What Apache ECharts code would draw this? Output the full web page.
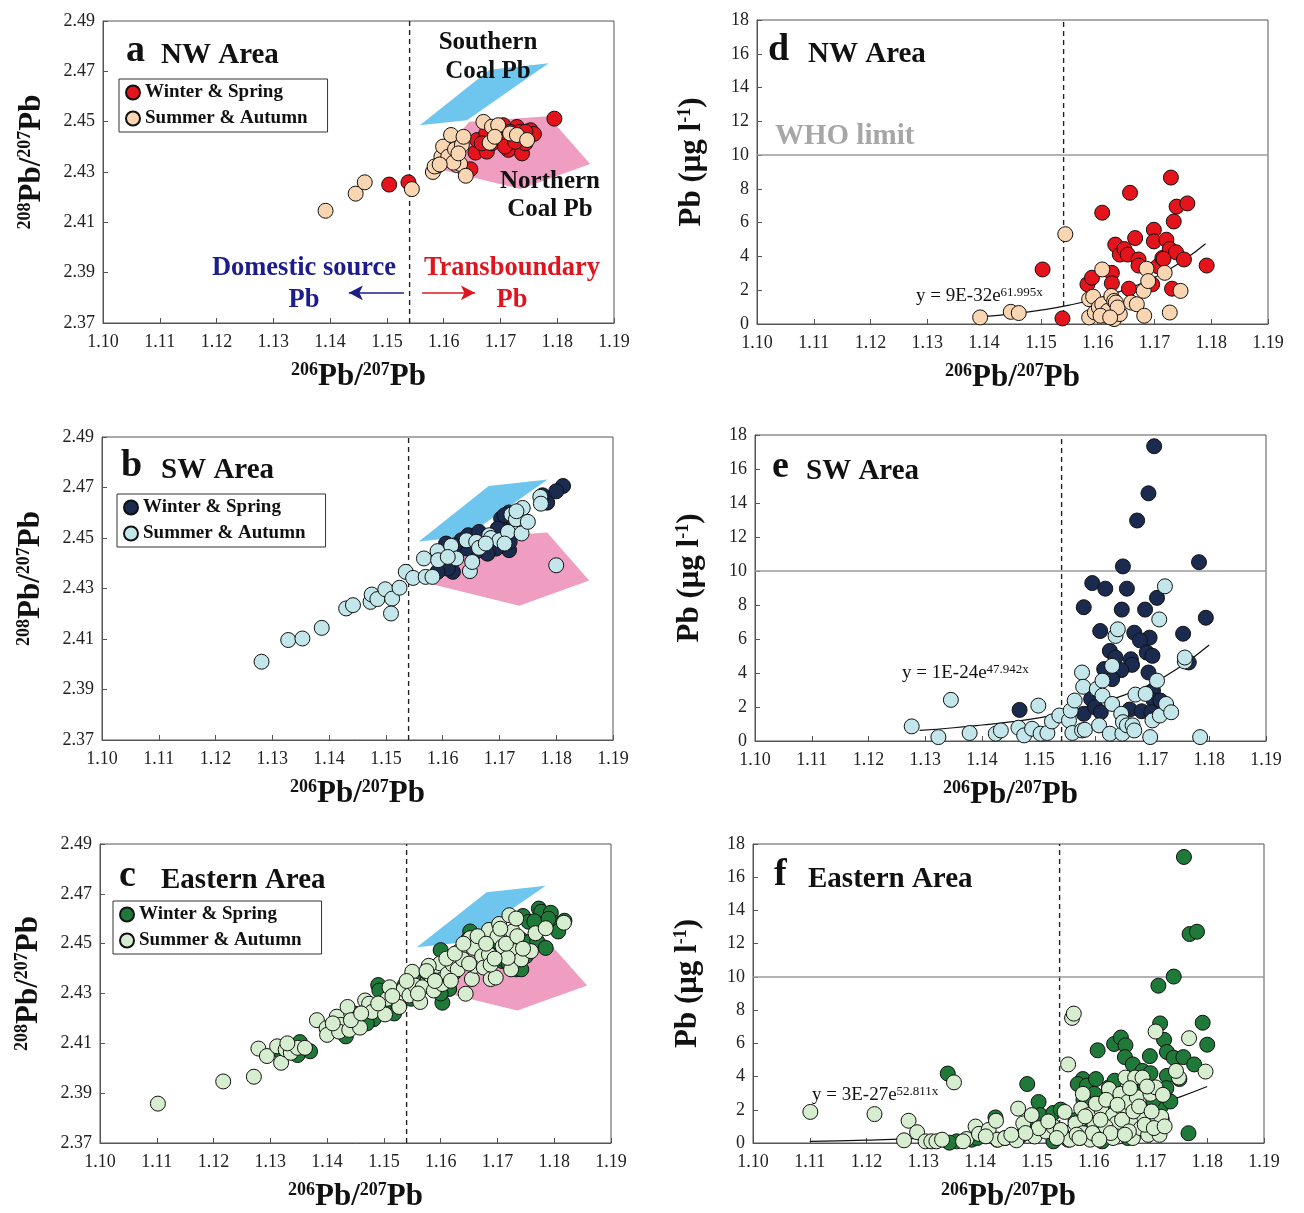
<!DOCTYPE html>
<html>
<head>
<meta charset="utf-8">
<script src="https://cdn.jsdelivr.net/npm/echarts@6/dist/echarts.min.js"></script>
<style>
  html, body { margin: 0; padding: 0; background: #fff; }
  #chart { width: 1304px; height: 1213px; }
</style>
</head>
<body>
<div id="chart"></div>
<script>
// ---- data ----
const aWinter = [[1.1504,2.4250],[1.1538,2.4259],[1.1795,2.4512],[1.1647,2.4311],[1.1656,2.4377],[1.1676,2.4381],[1.1659,2.4427],[1.1675,2.4453],[1.1693,2.4466],[1.1699,2.4427],[1.1714,2.4388],[1.1723,2.4440],[1.1729,2.4479],[1.1738,2.4374],[1.1744,2.4414],[1.1753,2.4466],[1.1759,2.4451],[1.1705,2.4486],[1.1717,2.4460],[1.1735,2.4460],[1.1685,2.4414],[1.1708,2.4401],[1.1744,2.4460],[1.1726,2.4420],[1.1667,2.4414]];
const aSummer = [[1.1392,2.4146],[1.1445,2.4214],[1.1461,2.4259],[1.1544,2.4232],[1.1581,2.4300],[1.1590,2.4326],[1.1596,2.4361],[1.1599,2.4401],[1.1613,2.4447],[1.1608,2.4361],[1.1620,2.4390],[1.1623,2.4328],[1.1629,2.4332],[1.1632,2.4407],[1.1635,2.4440],[1.1639,2.4285],[1.1584,2.4322],[1.1670,2.4499],[1.1685,2.4480],[1.1681,2.4416],[1.1696,2.4486],[1.1690,2.4440],[1.1717,2.4453],[1.1729,2.4447],[1.1747,2.4427],[1.1617,2.4337],[1.1593,2.4330],[1.1626,2.4374]];

const bWinter = [[1.1812,2.4706],[1.1800,2.4685],[1.1784,2.4640],[1.1776,2.4669],[1.1717,2.4452],[1.1718,2.4485],[1.1706,2.4551],[1.1703,2.4577],[1.1717,2.4601],[1.1709,2.4590],[1.1694,2.4458],[1.1679,2.4438],[1.1670,2.4491],[1.1658,2.4445],[1.1642,2.4458],[1.1633,2.4491],[1.1621,2.4471],[1.1618,2.4366],[1.1609,2.4379],[1.1606,2.4478],[1.1597,2.4419],[1.1591,2.4366],[1.1645,2.4511],[1.1664,2.4524],[1.1688,2.4511],[1.1697,2.4537]];
const bSummer = [[1.1281,2.4010],[1.1328,2.4096],[1.1353,2.4102],[1.1387,2.4144],[1.1430,2.4221],[1.1442,2.4234],[1.1473,2.4247],[1.1475,2.4276],[1.1485,2.4258],[1.1499,2.4297],[1.1511,2.4260],[1.1509,2.4201],[1.1524,2.4303],[1.1535,2.4366],[1.1548,2.4342],[1.1567,2.4419],[1.1570,2.4346],[1.1582,2.4346],[1.1591,2.4448],[1.1592,2.4412],[1.1615,2.4469],[1.1624,2.4419],[1.1642,2.4491],[1.1648,2.4369],[1.1652,2.4405],[1.1659,2.4485],[1.1664,2.4461],[1.1682,2.4511],[1.1685,2.4500],[1.1700,2.4491],[1.1715,2.4524],[1.1721,2.4593],[1.1729,2.4574],[1.1739,2.4518],[1.1741,2.4619],[1.1750,2.4564],[1.1772,2.4663],[1.1773,2.4636],[1.1800,2.4392],[1.1730,2.4606],[1.1609,2.4425],[1.1676,2.4478],[1.1709,2.4478]];

const cWinter = [[1.1370,2.4068],[1.1352,2.4105],[1.1348,2.4053],[1.1321,2.4058],[1.1433,2.4128],[1.1448,2.4220],[1.1482,2.4197],[1.1490,2.4334],[1.1492,2.4312],[1.1518,2.4220],[1.1536,2.4332],[1.1600,2.4474],[1.1603,2.4263],[1.1615,2.4318],[1.1652,2.4549],[1.1709,2.4430],[1.1733,2.4397],[1.1742,2.4397],[1.1745,2.4611],[1.1742,2.4516],[1.1755,2.4588],[1.1758,2.4509],[1.1770,2.4509],[1.1773,2.4641],[1.1777,2.4628],[1.1794,2.4624],[1.1800,2.4584],[1.1807,2.4549],[1.1818,2.4592],[1.1785,2.4483],[1.1715,2.4430],[1.1727,2.4503],[1.1703,2.4503],[1.1648,2.4516],[1.1624,2.4384],[1.1548,2.4279],[1.1576,2.4384],[1.1552,2.4358],[1.1730,2.4480],[1.1750,2.4450],[1.1765,2.4590],[1.1790,2.4600],[1.1470,2.4180],[1.1500,2.4250],[1.1600,2.4300],[1.1720,2.4420]];
const cSummer = [[1.1102,2.3858],[1.1217,2.3947],[1.1271,2.3966],[1.1279,2.4079],[1.1294,2.4049],[1.1312,2.4088],[1.1319,2.4022],[1.1327,2.4075],[1.1336,2.4062],[1.1348,2.4082],[1.1361,2.4082],[1.1382,2.4193],[1.1399,2.4161],[1.1400,2.4134],[1.1417,2.4207],[1.1424,2.4174],[1.1421,2.4147],[1.1439,2.4154],[1.1436,2.4246],[1.1458,2.4163],[1.1442,2.4193],[1.1467,2.4272],[1.1474,2.4259],[1.1479,2.4226],[1.1502,2.4216],[1.1506,2.4279],[1.1510,2.4325],[1.1527,2.4246],[1.1535,2.4318],[1.1545,2.4292],[1.1550,2.4387],[1.1555,2.4332],[1.1564,2.4266],[1.1568,2.4325],[1.1583,2.4371],[1.1588,2.4312],[1.1594,2.4411],[1.1599,2.4421],[1.1603,2.4338],[1.1612,2.4378],[1.1621,2.4417],[1.1630,2.4397],[1.1633,2.4470],[1.1639,2.4437],[1.1644,2.4299],[1.1652,2.4522],[1.1655,2.4358],[1.1658,2.4483],[1.1661,2.4411],[1.1673,2.4450],[1.1676,2.4404],[1.1685,2.4555],[1.1685,2.4457],[1.1688,2.4358],[1.1697,2.4364],[1.1700,2.4529],[1.1703,2.4579],[1.1709,2.4489],[1.1721,2.4614],[1.1724,2.4397],[1.1727,2.4549],[1.1730,2.4470],[1.1733,2.4601],[1.1742,2.4437],[1.1759,2.4470],[1.1767,2.4542],[1.1785,2.4562],[1.1817,2.4584],[1.1718,2.4443],[1.1618,2.4351],[1.1688,2.4416],[1.1579,2.4411],[1.1575,2.4390],[1.1590,2.4350],[1.1610,2.4440],[1.1625,2.4460],[1.1640,2.4500],[1.1650,2.4420],[1.1665,2.4530],[1.1680,2.4500],[1.1695,2.4440],[1.1705,2.4560],[1.1715,2.4500],[1.1735,2.4530],[1.1745,2.4480],[1.1560,2.4300],[1.1540,2.4350],[1.1515,2.4290],[1.1490,2.4260],[1.1460,2.4220],[1.1410,2.4180],[1.1330,2.4100]];

const dWinter = [[1.1503,3.23],[1.1538,0.33],[1.1582,2.35],[1.1590,2.74],[1.1608,6.59],[1.1625,3.03],[1.1625,2.41],[1.1631,4.70],[1.1639,4.11],[1.1647,4.44],[1.1653,4.11],[1.1657,7.77],[1.1655,2.09],[1.1666,5.09],[1.1672,3.82],[1.1672,3.46],[1.1699,5.58],[1.1699,4.89],[1.1696,2.35],[1.1706,3.42],[1.1714,3.91],[1.1721,4.99],[1.1729,8.67],[1.1727,4.44],[1.1734,6.07],[1.1738,4.25],[1.1739,6.95],[1.1731,2.09],[1.1752,3.82],[1.1758,7.14],[1.1792,3.46],[1.1716,3.86]];
const dSummer = [[1.1393,0.39],[1.1447,0.72],[1.1461,0.65],[1.1543,5.32],[1.1585,1.47],[1.1585,0.39],[1.1592,1.62],[1.1595,0.68],[1.1602,0.98],[1.1608,3.23],[1.1608,1.17],[1.1615,0.49],[1.1618,0.78],[1.1624,1.66],[1.1629,1.37],[1.1629,0.29],[1.1632,1.27],[1.1639,0.59],[1.1635,0.98],[1.1659,1.27],[1.1669,1.17],[1.1682,0.49],[1.1681,1.96],[1.1686,3.27],[1.1689,2.54],[1.1718,3.03],[1.1727,0.68],[1.1746,1.96],[1.1605,0.49],[1.1622,0.39]];

const eWinter = [[1.1703,17.34],[1.1693,14.57],[1.1673,12.97],[1.1648,10.27],[1.1782,10.52],[1.1594,9.29],[1.1617,8.96],[1.1655,8.96],[1.1579,7.87],[1.1646,7.73],[1.1687,7.73],[1.1708,8.42],[1.1794,7.25],[1.1608,6.47],[1.1668,6.37],[1.1695,6.08],[1.1754,6.31],[1.1678,5.92],[1.1625,5.30],[1.1635,4.91],[1.1690,5.20],[1.1700,5.01],[1.1662,4.81],[1.1664,4.48],[1.1645,4.17],[1.1615,4.23],[1.1629,3.64],[1.1693,4.03],[1.1764,4.62],[1.1466,1.83],[1.1579,1.60],[1.1592,2.47],[1.1599,1.99],[1.1609,1.69],[1.1660,1.85],[1.1681,1.75],[1.1701,2.96],[1.1702,2.38],[1.1714,2.38],[1.1698,1.69]];
const eSummer = [[1.1276,0.86],[1.1323,0.23],[1.1345,2.42],[1.1378,0.47],[1.1424,0.43],[1.1433,0.62],[1.1464,0.78],[1.1474,0.33],[1.1488,0.72],[1.1499,2.08],[1.1503,0.43],[1.1515,0.47],[1.1523,1.15],[1.1536,1.50],[1.1553,1.21],[1.1556,1.79],[1.1559,0.47],[1.1563,2.38],[1.1576,0.62],[1.1576,4.03],[1.1578,3.19],[1.1581,0.66],[1.1602,3.06],[1.1606,0.92],[1.1612,3.55],[1.1612,2.67],[1.1629,2.18],[1.1625,0.43],[1.1629,4.42],[1.1635,6.18],[1.1639,6.57],[1.1645,1.60],[1.1647,0.43],[1.1648,1.11],[1.1655,0.92],[1.1665,0.92],[1.1668,0.62],[1.1670,2.73],[1.1688,2.77],[1.1696,0.23],[1.1700,1.21],[1.1708,3.55],[1.1712,7.15],[1.1713,1.50],[1.1722,9.10],[1.1724,2.18],[1.1733,1.69],[1.1757,4.68],[1.1784,0.23],[1.1757,4.91]];

const fWinter = [[1.1759,17.22],[1.1769,12.58],[1.1782,12.72],[1.1741,10.02],[1.1714,9.47],[1.1717,7.20],[1.1792,7.24],[1.1800,5.92],[1.1724,6.21],[1.1729,5.48],[1.1741,5.13],[1.1758,5.17],[1.1777,4.73],[1.1699,5.23],[1.1636,5.96],[1.1648,6.35],[1.1656,5.88],[1.1655,5.17],[1.1607,5.58],[1.1669,4.73],[1.1686,4.34],[1.1729,4.04],[1.1751,3.85],[1.1581,3.85],[1.1572,3.55],[1.1588,3.45],[1.1604,3.85],[1.1601,2.96],[1.1627,3.35],[1.1637,3.75],[1.1582,2.60],[1.1621,2.27],[1.1647,2.76],[1.1718,2.17],[1.1725,2.86],[1.1343,4.18],[1.1483,3.55],[1.1503,2.47],[1.1427,1.54],[1.1506,1.68],[1.1529,1.81],[1.1542,2.01],[1.1767,0.59],[1.1359,0.10],[1.1346,0.02],[1.1490,0.79],[1.1529,0.10],[1.1568,1.38],[1.1692,1.97],[1.1679,3.16],[1.1712,3.16],[1.1705,2.56],[1.1624,1.38],[1.1660,1.78],[1.1555,0.20],[1.1594,0.79],[1.1634,0.79],[1.1673,0.69],[1.1444,0.30],[1.1385,0.20],[1.1690,3.60],[1.1700,4.20],[1.1728,3.30],[1.1735,2.50],[1.1720,1.40],[1.1575,0.30],[1.1615,0.10],[1.1660,0.30],[1.1545,0.50],[1.1515,1.00],[1.1470,0.40],[1.1430,0.20],[1.1395,0.30]];
const fSummer = [[1.1101,1.87],[1.1214,1.74],[1.1266,0.16],[1.1274,1.34],[1.1289,0.65],[1.1304,0.10],[1.1314,0.10],[1.1323,0.10],[1.1333,0.20],[1.1354,3.65],[1.1376,0.24],[1.1392,0.99],[1.1398,0.55],[1.1415,0.79],[1.1431,0.20],[1.1428,1.34],[1.1444,0.30],[1.1464,0.16],[1.1467,2.07],[1.1476,1.18],[1.1491,1.68],[1.1496,0.39],[1.1516,0.69],[1.1529,0.99],[1.1549,1.87],[1.1555,4.73],[1.1562,7.53],[1.1565,7.79],[1.1558,0.20],[1.1568,1.18],[1.1578,2.07],[1.1581,0.59],[1.1591,1.68],[1.1594,0.20],[1.1601,1.18],[1.1607,0.39],[1.1614,1.97],[1.1617,0.79],[1.1627,3.25],[1.1634,1.68],[1.1640,1.18],[1.1643,0.39],[1.1647,2.96],[1.1653,1.97],[1.1656,3.94],[1.1660,2.47],[1.1666,1.38],[1.1669,0.30],[1.1673,3.94],[1.1676,2.76],[1.1683,0.89],[1.1686,3.94],[1.1689,1.58],[1.1696,0.49],[1.1700,2.96],[1.1709,6.71],[1.1709,3.35],[1.1712,1.28],[1.1716,0.49],[1.1719,1.58],[1.1750,3.94],[1.1745,4.34],[1.1768,6.31],[1.1797,4.30],[1.1581,2.96],[1.1604,2.37],[1.1621,0.99],[1.1634,0.30],[1.1542,0.79],[1.1503,0.89],[1.1570,0.50],[1.1585,1.60],[1.1598,0.60],[1.1612,1.40],[1.1622,2.60],[1.1630,0.60],[1.1642,2.30],[1.1650,1.40],[1.1662,0.70],[1.1670,1.90],[1.1680,2.20],[1.1690,1.10],[1.1702,1.90],[1.1706,0.90],[1.1722,2.90],[1.1725,1.00],[1.1694,3.40],[1.1664,3.30],[1.1655,0.50],[1.1610,0.20],[1.1575,0.30],[1.1535,0.30],[1.1520,1.30],[1.1480,0.60],[1.1455,0.50],[1.1410,0.40],[1.1370,0.10]];

// fitted curves as drawn in panels d-f
const dTrend = [[1.139,0.42],[1.145,0.60],[1.150,0.82],[1.155,1.12],[1.160,1.52],[1.165,2.05],[1.170,2.75],[1.175,3.75],[1.179,4.75]];
const eTrend = [[1.129,0.62],[1.135,0.78],[1.140,0.94],[1.145,1.12],[1.150,1.36],[1.155,1.70],[1.160,2.15],[1.165,2.70],[1.170,3.40],[1.175,4.40],[1.180,5.65]];
const fTrend = [[1.110,0.10],[1.120,0.17],[1.130,0.29],[1.140,0.48],[1.150,0.80],[1.155,1.02],[1.160,1.30],[1.165,1.68],[1.170,2.18],[1.175,2.75],[1.180,3.40]];

// coal source fields
const southernCoal = [[1.1558,2.4486],[1.1681,2.4706],[1.1785,2.4732],[1.1641,2.4506]];
const northernCoal = [[1.1578,2.4319],[1.1645,2.4500],[1.1784,2.4522],[1.1858,2.4332],[1.1735,2.4232]];

const boundaryRatio = 1.154;
const whoLimit = 10;
const domesticArrow = [[1.1530,2.382],[1.1433,2.382]];
const transArrow = [[1.1562,2.382],[1.1655,2.382]];

const legendLabels = {
    aWS: 'Winter & Spring', aSA: 'Summer & Autumn',
    bWS: 'Winter & Spring', bSA: 'Summer & Autumn',
    cWS: 'Winter & Spring', cSA: 'Summer & Autumn'
};

// ---- chart ----
const FONT = '"Liberation Serif", "Times New Roman", serif';
const AX = '#555';
const chart = echarts.init(document.getElementById('chart'));

const grids = [
    {left: 103, top: 21, width: 511, height: 302},   // a
    {left: 102, top: 437, width: 511, height: 303},  // b
    {left: 100, top: 844, width: 511, height: 304},  // c
    {left: 757, top: 20, width: 511, height: 304},   // d
    {left: 755, top: 435, width: 511, height: 306},  // e
    {left: 753, top: 844, width: 511, height: 304}   // f
].map(g => Object.assign({show: true, borderColor: AX, borderWidth: 1, backgroundColor: 'transparent'}, g));

const nameRich = {
    b: {fontFamily: FONT, fontWeight: 'bold', fontSize: 31, color: '#111'},
    s: {fontFamily: FONT, fontWeight: 'bold', fontSize: 18, color: '#111', verticalAlign: 'top'}
};

const xAxes = grids.map((g, i) => ({
    gridIndex: i, type: 'value', min: 1.10, max: 1.19, interval: 0.01,
    name: '{s|206}{b|Pb/}{s|207}{b|Pb}', nameLocation: 'middle', nameGap: 38,
    nameTextStyle: {rich: nameRich},
    axisLine: {show: true, lineStyle: {color: AX}},
    axisTick: {show: true, inside: true, length: 5, lineStyle: {color: AX}},
    axisLabel: {fontFamily: FONT, fontSize: 18, color: '#222', margin: 10, formatter: v => v.toFixed(2)},
    splitLine: {show: false}
}));

const yAxes = grids.map((g, i) => {
    const ratio = i < 3;
    return {
        gridIndex: i, type: 'value',
        min: ratio ? 2.37 : 0, max: ratio ? 2.49 : 18, interval: ratio ? 0.02 : 2,
        name: ratio ? '{s|208}{b|Pb/}{s|207}{b|Pb}' : '{b|Pb (μg l}{s|-1}{b|)}',
        nameLocation: 'middle', nameGap: ratio ? 56 : 50,
        nameTextStyle: {rich: nameRich, padding: [0, 0, 0, 20]},
        axisLine: {show: true, lineStyle: {color: AX}},
        axisTick: {show: true, inside: true, length: 5, lineStyle: {color: AX}},
        axisLabel: {fontFamily: FONT, fontSize: 18, color: '#222', margin: 8,
            formatter: v => ratio ? v.toFixed(2) : Math.round(v)},
        splitLine: {show: false}
    };
});

function polygonRender(points, color) {
    return function (params, api) {
        return {type: 'polygon', shape: {points: points.map(p => api.coord(p))}, style: {fill: color}, silent: true};
    };
}

function refLine(idx, data, style) {
    return {type: 'line', xAxisIndex: idx, yAxisIndex: idx, data: data, symbol: 'none',
        silent: true, z: 1, lineStyle: style};
}

function scatter(name, idx, data, color, extra) {
    return Object.assign({
        name: name, type: 'scatter', xAxisIndex: idx, yAxisIndex: idx,
        data: data, symbolSize: 15, z: 3,
        itemStyle: {color: color, borderColor: '#111', borderWidth: 1, opacity: 1}
    }, extra || {});
}

const dashStyle = {type: [5, 4], color: '#222', width: 1.4};
const series = [];
const palettes = [
    ['#e5131b', '#f9d6b1'],
    ['#1b2b50', '#c2e6ea'],
    ['#1f7a3a', '#d6edcf']
];
const ratioData = [[aWinter, aSummer], [bWinter, bSummer], [cWinter, cSummer]];
const pbData = [[dWinter, dSummer], [eWinter, eSummer], [fWinter, fSummer]];
const trends = [dTrend, eTrend, fTrend];
const keys = ['a', 'b', 'c'];

for (let i = 0; i < 3; i++) {
    series.push({type: 'custom', xAxisIndex: i, yAxisIndex: i, silent: true, z: 1,
        renderItem: polygonRender(southernCoal, '#6ec6ef'), data: [southernCoal[0]]});
    series.push({type: 'custom', xAxisIndex: i, yAxisIndex: i, silent: true, z: 1,
        renderItem: polygonRender(northernCoal, '#ef9dc0'), data: [northernCoal[0]]});
    series.push(refLine(i, [[boundaryRatio, 2.37], [boundaryRatio, 2.49]], dashStyle));
    series.push(scatter(keys[i] + 'WS', i, ratioData[i][0], palettes[i][0]));
    const extra = {};
    if (i === 0) {
        extra.markLine = {
            silent: true, symbol: ['none', 'arrow'], symbolSize: [11, 14], label: {show: false},
            data: [
                [{coord: domesticArrow[0], lineStyle: {color: '#1c1c8c', width: 1.6, type: 'solid'}}, {coord: domesticArrow[1]}],
                [{coord: transArrow[0], lineStyle: {color: '#e0141e', width: 1.6, type: 'solid'}}, {coord: transArrow[1]}]
            ]
        };
    }
    series.push(scatter(keys[i] + 'SA', i, ratioData[i][1], palettes[i][1], extra));
}

for (let i = 0; i < 3; i++) {
    const idx = i + 3;
    series.push(refLine(idx, [[boundaryRatio, 0], [boundaryRatio, 18]], dashStyle));
    series.push(refLine(idx, [[1.10, whoLimit], [1.19, whoLimit]], {type: 'solid', color: '#9a9a9a', width: 1.5}));
    series.push({type: 'line', xAxisIndex: idx, yAxisIndex: idx, data: trends[i], smooth: true,
        showSymbol: false, symbol: 'none', silent: true, z: 2,
        lineStyle: {color: '#111', width: 1.2}});
    series.push(scatter('pbWS' + i, idx, pbData[i][0], palettes[i][0]));
    series.push(scatter('pbSA' + i, idx, pbData[i][1], palettes[i][1]));
}

function legendAt(left, top, names) {
    return {
        left: left, top: top, orient: 'vertical', data: names, selectedMode: false,
        formatter: n => legendLabels[n], icon: 'circle',
        itemWidth: 14, itemHeight: 14, itemGap: 7, padding: [4, 20, 4, 6],
        borderColor: '#333', borderWidth: 1, backgroundColor: '#fff',
        textStyle: {fontFamily: FONT, fontWeight: 'bold', fontSize: 19, color: '#111', lineHeight: 19}
    };
}

function txt(x, y, text, size, color, align, extra) {
    return {
        type: 'text', x: x, y: y, silent: true, z: 50,
        style: Object.assign({
            text: text, fontFamily: FONT, fontWeight: 'bold', fontSize: size,
            fill: color || '#111', align: align || 'left', verticalAlign: 'middle'
        }, extra || {})
    };
}

function eq(x, y, main, sup) {
    return {
        type: 'text', x: x, y: y, silent: true, z: 50,
        style: {
            text: '{m|' + main + '}{s|' + sup + '}', verticalAlign: 'middle', align: 'left',
            rich: {
                m: {fontFamily: FONT, fontSize: 19, fill: '#111'},
                s: {fontFamily: FONT, fontSize: 13, fill: '#111', verticalAlign: 'top'}
            }
        }
    };
}

const panelTitles = [
    [126, 161, 70, 'a', 'NW Area'],
    [121, 161, 485, 'b', 'SW Area'],
    [119, 161, 895, 'c', 'Eastern Area'],
    [768, 808, 69, 'd', 'NW Area'],
    [772, 806, 486, 'e', 'SW Area'],
    [774, 808, 894, 'f', 'Eastern Area']
];

const graphics = [];
panelTitles.forEach(p => {
    graphics.push(txt(p[0], p[2], p[3], 38, '#111', 'left', {verticalAlign: 'bottom'}));
    graphics.push(txt(p[1], p[2], p[4], 29, '#111', 'left', {verticalAlign: 'bottom'}));
});
graphics.push(
    txt(488, 43, 'Southern', 25, '#111', 'center'),
    txt(488, 72, 'Coal Pb', 25, '#111', 'center'),
    txt(550, 182, 'Northern', 25, '#111', 'center'),
    txt(550, 210, 'Coal Pb', 25, '#111', 'center'),
    txt(304, 268, 'Domestic source', 26.5, '#1c1c8c', 'center'),
    txt(304, 300, 'Pb', 26.5, '#1c1c8c', 'center'),
    txt(512, 268, 'Transboundary', 26.5, '#e0141e', 'center'),
    txt(512, 300, 'Pb', 26.5, '#e0141e', 'center'),
    txt(775, 137, 'WHO limit', 29, '#a6a6a6', 'left'),
    eq(916, 296, 'y = 9E-32e', '61.995x'),
    eq(902, 673, 'y = 1E-24e', '47.942x'),
    eq(812, 1095, 'y = 3E-27e', '52.811x')
);

const option = {
    animation: false,
    backgroundColor: '#fff',
    grid: grids,
    xAxis: xAxes,
    yAxis: yAxes,
    legend: [
        legendAt(119, 79, ['aWS', 'aSA']),
        legendAt(117, 494, ['bWS', 'bSA']),
        legendAt(113, 901, ['cWS', 'cSA'])
    ],
    series: series,
    graphic: graphics
};

chart.setOption(option);
window.addEventListener('resize', function () {
    chart.resize();
});
</script>
</body>
</html>
